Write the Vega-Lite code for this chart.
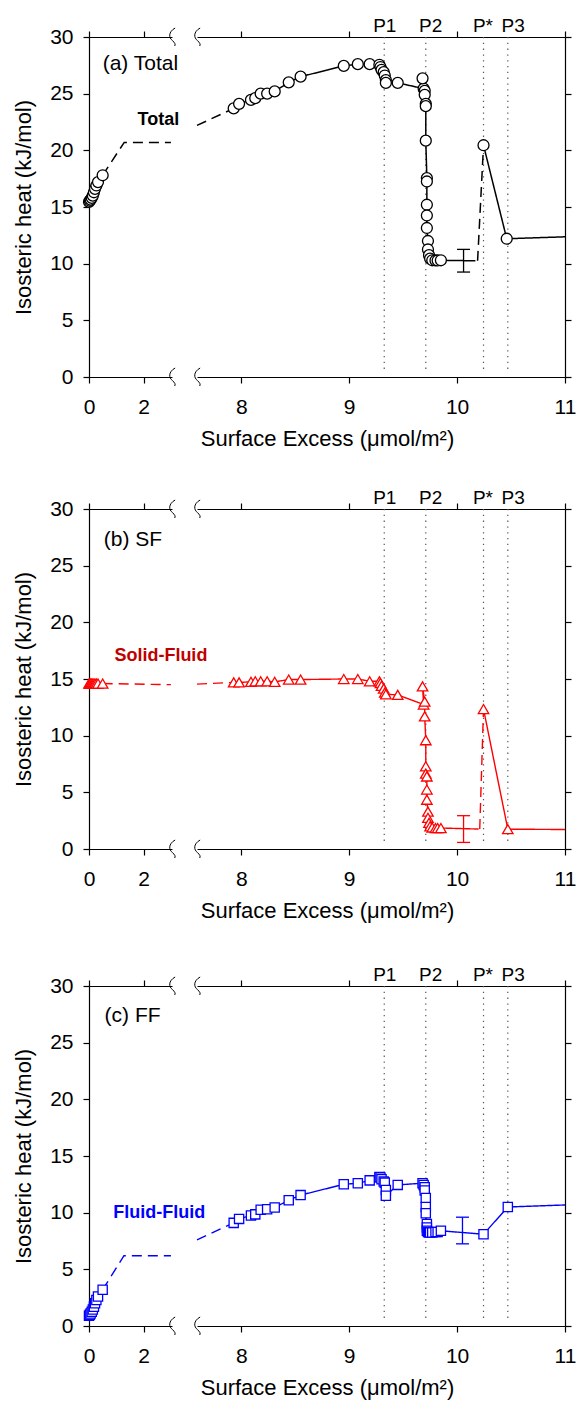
{
"$schema":"https://vega.github.io/schema/vega-lite/v6.json",
"padding":{"left":12,"top":17,"right":2,"bottom":2},
"config":{"font":"Liberation Sans","view":{"stroke":null},
"axis":{"grid":false,"domainColor":"#000","tickColor":"#000","labelColor":"#000","titleColor":"#000","labelFont":"Liberation Sans","titleFont":"Liberation Sans","labelFontSize":21,"titleFontSize":22,"titleFontWeight":"normal","tickSize":6,"labelFlush":false,"labelOverlap":false,"domainWidth":1.2,"tickWidth":1.2}},
"datasets":{
"A":[
{"x":0,"y":15.45,"m":1,"g":"L1","d":"s","o":1},{"x":0.03,"y":15.55,"m":1,"g":"L1","d":"s","o":2},{"x":0.06,"y":15.65,"m":1,"g":"L1","d":"s","o":3},{"x":0.1,"y":15.8,"m":1,"g":"L1","d":"s","o":4},{"x":0.14,"y":16.0,"m":1,"g":"L1","d":"s","o":5},{"x":0.18,"y":16.3,"m":1,"g":"L1","d":"s","o":6},{"x":0.22,"y":16.6,"m":1,"g":"L1","d":"s","o":7},{"x":0.27,"y":16.9,"m":1,"g":"L1","d":"s","o":8},{"x":0.33,"y":17.2,"m":1,"g":"L1","d":"s","o":9},{"x":0.5,"y":17.8,"m":1,"g":"L1","d":"s","o":10},
{"x":0.5,"y":17.8,"m":0,"g":"L2","d":"d","o":1},{"x":1.29,"y":20.7,"m":0,"g":"L2","d":"d","o":2},{"x":3.0,"y":20.7,"m":0,"g":"L2","d":"d","o":3},
{"x":7.59,"y":22.2,"m":0,"g":"R1","d":"d","o":1},{"x":7.93,"y":23.7,"m":0,"g":"R1","d":"d","o":2},
{"x":7.93,"y":23.7,"m":1,"g":"R2","d":"s","o":1},{"x":7.98,"y":24.1,"m":1,"g":"R2","d":"s","o":2},{"x":8.09,"y":24.45,"m":1,"g":"R2","d":"s","o":3},{"x":8.13,"y":24.6,"m":1,"g":"R2","d":"s","o":4},{"x":8.18,"y":25.0,"m":1,"g":"R2","d":"s","o":5},{"x":8.24,"y":25.0,"m":1,"g":"R2","d":"s","o":6},{"x":8.31,"y":25.2,"m":1,"g":"R2","d":"s","o":7},{"x":8.44,"y":26.0,"m":1,"g":"R2","d":"s","o":8},{"x":8.55,"y":26.5,"m":1,"g":"R2","d":"s","o":9},{"x":8.95,"y":27.45,"m":1,"g":"R2","d":"s","o":10},{"x":9.08,"y":27.6,"m":1,"g":"R2","d":"s","o":11},{"x":9.19,"y":27.6,"m":1,"g":"R2","d":"s","o":12},{"x":9.28,"y":27.55,"m":1,"g":"R2","d":"s","o":13},{"x":9.29,"y":27.35,"m":1,"g":"R2","d":"s","o":14},{"x":9.3,"y":27.1,"m":1,"g":"R2","d":"s","o":15},{"x":9.32,"y":26.9,"m":1,"g":"R2","d":"s","o":16},{"x":9.33,"y":26.6,"m":1,"g":"R2","d":"s","o":17},{"x":9.34,"y":26.2,"m":1,"g":"R2","d":"s","o":18},{"x":9.34,"y":25.95,"m":1,"g":"R2","d":"s","o":19},{"x":9.45,"y":25.95,"m":1,"g":"R2","d":"s","o":20},{"x":9.69,"y":25.45,"m":1,"g":"R2","d":"s","o":21},{"x":9.68,"y":26.35,"m":1,"g":"R2","d":"s","o":22},{"x":9.7,"y":25.25,"m":1,"g":"R2","d":"s","o":23},{"x":9.7,"y":24.9,"m":1,"g":"R2","d":"s","o":24},{"x":9.71,"y":24.1,"m":1,"g":"R2","d":"s","o":25},{"x":9.71,"y":23.9,"m":1,"g":"R2","d":"s","o":26},{"x":9.71,"y":20.85,"m":1,"g":"R2","d":"s","o":27},{"x":9.72,"y":17.55,"m":1,"g":"R2","d":"s","o":28},{"x":9.72,"y":17.25,"m":1,"g":"R2","d":"s","o":29},{"x":9.72,"y":15.2,"m":1,"g":"R2","d":"s","o":30},{"x":9.72,"y":14.25,"m":1,"g":"R2","d":"s","o":31},{"x":9.72,"y":13.15,"m":1,"g":"R2","d":"s","o":32},{"x":9.73,"y":12.0,"m":1,"g":"R2","d":"s","o":33},{"x":9.73,"y":11.25,"m":1,"g":"R2","d":"s","o":34},{"x":9.74,"y":10.75,"m":1,"g":"R2","d":"s","o":35},{"x":9.75,"y":10.45,"m":1,"g":"R2","d":"s","o":36},{"x":9.77,"y":10.3,"m":1,"g":"R2","d":"s","o":37},{"x":9.8,"y":10.28,"m":1,"g":"R2","d":"s","o":38},{"x":9.82,"y":10.28,"m":1,"g":"R2","d":"s","o":39},{"x":9.85,"y":10.3,"m":1,"g":"R2","d":"s","o":40},{"x":10.17,"y":10.25,"m":0,"g":"R2","d":"s","o":41},
{"x":10.19,"y":10.25,"m":0,"g":"R3","d":"d","o":1},{"x":10.245,"y":20.45,"m":0,"g":"R3","d":"d","o":2},
{"x":10.245,"y":20.45,"m":1,"g":"R4","d":"s","o":1},{"x":10.46,"y":12.2,"m":1,"g":"R4","d":"s","o":2},{"x":11,"y":12.37,"m":0,"g":"R4","d":"s","o":3}
],
"B":[
{"x":0,"y":14.6,"m":1,"g":"L1","d":"s","o":1},{"x":0.03,"y":14.6,"m":1,"g":"L1","d":"s","o":2},{"x":0.06,"y":14.6,"m":1,"g":"L1","d":"s","o":3},{"x":0.1,"y":14.6,"m":1,"g":"L1","d":"s","o":4},{"x":0.14,"y":14.6,"m":1,"g":"L1","d":"s","o":5},{"x":0.18,"y":14.6,"m":1,"g":"L1","d":"s","o":6},{"x":0.22,"y":14.6,"m":1,"g":"L1","d":"s","o":7},{"x":0.27,"y":14.6,"m":1,"g":"L1","d":"s","o":8},{"x":0.33,"y":14.6,"m":1,"g":"L1","d":"s","o":9},{"x":0.5,"y":14.6,"m":1,"g":"L1","d":"s","o":10},
{"x":0.5,"y":14.6,"m":0,"g":"L2","d":"d","o":1},{"x":3.0,"y":14.5,"m":0,"g":"L2","d":"d","o":2},
{"x":7.59,"y":14.55,"m":0,"g":"R1","d":"d","o":1},{"x":7.93,"y":14.7,"m":0,"g":"R1","d":"d","o":2},
{"x":7.93,"y":14.7,"m":1,"g":"R2","d":"s","o":1},{"x":7.98,"y":14.7,"m":1,"g":"R2","d":"s","o":2},{"x":8.09,"y":14.75,"m":1,"g":"R2","d":"s","o":3},{"x":8.13,"y":14.8,"m":1,"g":"R2","d":"s","o":4},{"x":8.18,"y":14.8,"m":1,"g":"R2","d":"s","o":5},{"x":8.24,"y":14.8,"m":1,"g":"R2","d":"s","o":6},{"x":8.31,"y":14.75,"m":1,"g":"R2","d":"s","o":7},{"x":8.44,"y":14.95,"m":1,"g":"R2","d":"s","o":8},{"x":8.55,"y":14.95,"m":1,"g":"R2","d":"s","o":9},{"x":8.95,"y":15.0,"m":1,"g":"R2","d":"s","o":10},{"x":9.08,"y":15.0,"m":1,"g":"R2","d":"s","o":11},{"x":9.19,"y":14.8,"m":1,"g":"R2","d":"s","o":12},{"x":9.28,"y":14.8,"m":1,"g":"R2","d":"s","o":13},{"x":9.29,"y":14.65,"m":1,"g":"R2","d":"s","o":14},{"x":9.3,"y":14.4,"m":1,"g":"R2","d":"s","o":15},{"x":9.32,"y":14.15,"m":1,"g":"R2","d":"s","o":16},{"x":9.33,"y":13.8,"m":1,"g":"R2","d":"s","o":17},{"x":9.34,"y":13.65,"m":1,"g":"R2","d":"s","o":18},{"x":9.45,"y":13.6,"m":1,"g":"R2","d":"s","o":19},{"x":9.69,"y":12.75,"m":1,"g":"R2","d":"s","o":20},{"x":9.68,"y":14.35,"m":1,"g":"R2","d":"s","o":21},{"x":9.7,"y":13.0,"m":1,"g":"R2","d":"s","o":22},{"x":9.7,"y":11.7,"m":1,"g":"R2","d":"s","o":23},{"x":9.71,"y":9.6,"m":1,"g":"R2","d":"s","o":24},{"x":9.71,"y":7.3,"m":1,"g":"R2","d":"s","o":25},{"x":9.71,"y":6.65,"m":1,"g":"R2","d":"s","o":26},{"x":9.72,"y":6.4,"m":1,"g":"R2","d":"s","o":27},{"x":9.72,"y":5.25,"m":1,"g":"R2","d":"s","o":28},{"x":9.72,"y":4.35,"m":1,"g":"R2","d":"s","o":29},{"x":9.73,"y":3.3,"m":1,"g":"R2","d":"s","o":30},{"x":9.73,"y":2.75,"m":1,"g":"R2","d":"s","o":31},{"x":9.74,"y":2.3,"m":1,"g":"R2","d":"s","o":32},{"x":9.75,"y":2.0,"m":1,"g":"R2","d":"s","o":33},{"x":9.77,"y":1.9,"m":1,"g":"R2","d":"s","o":34},{"x":9.8,"y":1.85,"m":1,"g":"R2","d":"s","o":35},{"x":9.82,"y":1.85,"m":1,"g":"R2","d":"s","o":36},{"x":9.85,"y":1.85,"m":1,"g":"R2","d":"s","o":37},{"x":10.2,"y":1.76,"m":0,"g":"R2","d":"s","o":38},
{"x":10.21,"y":1.76,"m":0,"g":"R3","d":"d","o":1},{"x":10.245,"y":12.35,"m":0,"g":"R3","d":"d","o":2},
{"x":10.245,"y":12.35,"m":1,"g":"R4","d":"s","o":1},{"x":10.47,"y":1.75,"m":1,"g":"R4","d":"s","o":2},{"x":11,"y":1.72,"m":0,"g":"R4","d":"s","o":3}
],
"C":[
{"x":0,"y":0.9,"m":1,"g":"L1","d":"s","o":1},{"x":0.03,"y":1.0,"m":1,"g":"L1","d":"s","o":2},{"x":0.06,"y":1.1,"m":1,"g":"L1","d":"s","o":3},{"x":0.1,"y":1.25,"m":1,"g":"L1","d":"s","o":4},{"x":0.14,"y":1.45,"m":1,"g":"L1","d":"s","o":5},{"x":0.18,"y":1.7,"m":1,"g":"L1","d":"s","o":6},{"x":0.22,"y":2.0,"m":1,"g":"L1","d":"s","o":7},{"x":0.27,"y":2.3,"m":1,"g":"L1","d":"s","o":8},{"x":0.33,"y":2.6,"m":1,"g":"L1","d":"s","o":9},{"x":0.5,"y":3.2,"m":1,"g":"L1","d":"s","o":10},
{"x":0.5,"y":3.2,"m":0,"g":"L2","d":"d","o":1},{"x":1.28,"y":6.2,"m":0,"g":"L2","d":"d","o":2},{"x":3.0,"y":6.2,"m":0,"g":"L2","d":"d","o":3},
{"x":7.59,"y":7.6,"m":0,"g":"R1","d":"d","o":1},{"x":7.93,"y":9.1,"m":0,"g":"R1","d":"d","o":2},
{"x":7.93,"y":9.1,"m":1,"g":"R2","d":"s","o":1},{"x":7.98,"y":9.45,"m":1,"g":"R2","d":"s","o":2},{"x":8.09,"y":9.75,"m":1,"g":"R2","d":"s","o":3},{"x":8.13,"y":9.85,"m":1,"g":"R2","d":"s","o":4},{"x":8.18,"y":10.25,"m":1,"g":"R2","d":"s","o":5},{"x":8.24,"y":10.3,"m":1,"g":"R2","d":"s","o":6},{"x":8.31,"y":10.45,"m":1,"g":"R2","d":"s","o":7},{"x":8.44,"y":11.1,"m":1,"g":"R2","d":"s","o":8},{"x":8.55,"y":11.55,"m":1,"g":"R2","d":"s","o":9},{"x":8.95,"y":12.5,"m":1,"g":"R2","d":"s","o":10},{"x":9.08,"y":12.6,"m":1,"g":"R2","d":"s","o":11},{"x":9.19,"y":12.85,"m":1,"g":"R2","d":"s","o":12},{"x":9.28,"y":13.15,"m":1,"g":"R2","d":"s","o":13},{"x":9.29,"y":13.1,"m":1,"g":"R2","d":"s","o":14},{"x":9.3,"y":12.95,"m":1,"g":"R2","d":"s","o":15},{"x":9.32,"y":12.75,"m":1,"g":"R2","d":"s","o":16},{"x":9.33,"y":12.65,"m":1,"g":"R2","d":"s","o":17},{"x":9.34,"y":12.0,"m":1,"g":"R2","d":"s","o":18},{"x":9.34,"y":11.5,"m":1,"g":"R2","d":"s","o":19},{"x":9.45,"y":12.45,"m":1,"g":"R2","d":"s","o":20},{"x":9.68,"y":12.6,"m":1,"g":"R2","d":"s","o":21},{"x":9.69,"y":12.45,"m":1,"g":"R2","d":"s","o":22},{"x":9.7,"y":12.25,"m":1,"g":"R2","d":"s","o":23},{"x":9.7,"y":11.95,"m":1,"g":"R2","d":"s","o":24},{"x":9.71,"y":11.3,"m":1,"g":"R2","d":"s","o":25},{"x":9.71,"y":10.5,"m":1,"g":"R2","d":"s","o":26},{"x":9.71,"y":9.95,"m":1,"g":"R2","d":"s","o":27},{"x":9.72,"y":9.0,"m":1,"g":"R2","d":"s","o":28},{"x":9.72,"y":8.7,"m":1,"g":"R2","d":"s","o":29},{"x":9.72,"y":8.4,"m":1,"g":"R2","d":"s","o":30},{"x":9.73,"y":8.3,"m":1,"g":"R2","d":"s","o":31},{"x":9.74,"y":8.25,"m":1,"g":"R2","d":"s","o":32},{"x":9.75,"y":8.25,"m":1,"g":"R2","d":"s","o":33},{"x":9.77,"y":8.25,"m":1,"g":"R2","d":"s","o":34},{"x":9.8,"y":8.3,"m":1,"g":"R2","d":"s","o":35},{"x":9.82,"y":8.3,"m":1,"g":"R2","d":"s","o":36},{"x":9.85,"y":8.4,"m":1,"g":"R2","d":"s","o":37},{"x":10.245,"y":8.1,"m":1,"g":"R2","d":"s","o":38},{"x":10.47,"y":10.5,"m":1,"g":"R2","d":"s","o":39},{"x":11,"y":10.68,"m":0,"g":"R2","d":"s","o":40}
],
"E":[{"p":"A","x":10.06,"lo":9.26,"hi":11.26},{"p":"B","x":10.06,"lo":0.58,"hi":2.94},{"p":"C","x":10.05,"lo":7.25,"hi":9.6}],
"P":[{"x":9.325,"lx":9.33,"t":"P1"},{"x":9.71,"lx":9.755,"t":"P2"},{"x":10.245,"lx":10.24,"t":"P*"},{"x":10.47,"lx":10.52,"t":"P3"}]
},
"spacing":40,
"vconcat":[
{"hconcat":[
 {"width":83,"height":340,"resolve":{"axis":{"x":"independent","y":"independent"}},"layer":[
  {"data":{"values":[{"x":3.04,"y":0},{"x":3.04,"y":30}]},"mark":{"type":"point","shape":"M0.35,-1C-0.45,-0.55,-0.35,0.1,0.05,0.4C0.35,0.65,0.4,0.85,0.3,1","filled":false,"stroke":"black","strokeWidth":1,"size":324,"opacity":1},
   "encoding":{"x":{"field":"x","type":"quantitative","scale":{"domain":[0,3.04],"nice":false,"zero":false},"axis":{"orient":"top","values":[0,2],"labels":false,"title":null}},"y":{"field":"y","type":"quantitative","scale":{"domain":[0,30],"nice":false},"axis":null}}},
  {"data":{"name":"A"},"transform":[{"filter":"datum.x < 5"}],"mark":{"type":"line","color":"black","strokeWidth":1.5},
   "encoding":{"x":{"field":"x","type":"quantitative","axis":null},"y":{"field":"y","type":"quantitative","axis":null},"detail":{"field":"g"},"order":{"field":"o","type":"quantitative"},"strokeDash":{"field":"d","type":"nominal","scale":{"domain":["s","d"],"range":[[1,0],[10,6]]},"legend":null}}},
  {"data":{"name":"A"},"transform":[{"filter":"datum.m == 1 && datum.x < 5"}],"mark":{"type":"point","shape":"circle","filled":true,"fill":"white","stroke":"black","strokeWidth":1.3,"size":120,"opacity":1},
   "encoding":{"x":{"field":"x","type":"quantitative","axis":{"orient":"bottom","values":[0,2],"title":null,"labelPadding":13}},"y":{"field":"y","type":"quantitative","axis":{"orient":"left","values":[0,5,10,15,20,25,30],"title":"Isosteric heat (kJ/mol)","labelPadding":10,"titlePadding":14}}}},
  {"data":{"values":[{"t":"(a) Total","x":0.5,"y":27.6}]},"mark":{"type":"text","align":"left","baseline":"middle","fontSize":21},"encoding":{"x":{"field":"x","type":"quantitative","axis":null},"y":{"field":"y","type":"quantitative","axis":null},"text":{"field":"t"}}},
  {"data":{"values":[{"t":"Total","x":1.78,"y":22.7}]},"mark":{"type":"text","align":"left","baseline":"middle","fontSize":18,"fontWeight":"bold","color":"black"},"encoding":{"x":{"field":"x","type":"quantitative","axis":null},"y":{"field":"y","type":"quantitative","axis":null},"text":{"field":"t"}}}
 ]},
 {"width":368,"height":340,"resolve":{"axis":{"x":"independent","y":"independent"}},"layer":[
  {"data":{"values":[{"x":7.59,"y":0},{"x":7.59,"y":30}]},"mark":{"type":"point","shape":"M0.35,-1C-0.45,-0.55,-0.35,0.1,0.05,0.4C0.35,0.65,0.4,0.85,0.3,1","filled":false,"stroke":"black","strokeWidth":1,"size":324,"opacity":1},
   "encoding":{"x":{"field":"x","type":"quantitative","scale":{"domain":[7.59,11],"nice":false,"zero":false},"axis":{"orient":"top","values":[8,9,10,11],"labels":false,"title":null}},"y":{"field":"y","type":"quantitative","scale":{"domain":[0,30],"nice":false},"axis":null}}},
  {"data":{"name":"P"},"mark":{"type":"rule","color":"#555","strokeWidth":1.2,"strokeDash":[1.3,4.5]},"encoding":{"x":{"field":"x","type":"quantitative","axis":null},"y":{"datum":30,"type":"quantitative","axis":null},"y2":{"datum":0.7}}},
  {"data":{"name":"P"},"mark":{"type":"text","fontSize":19,"baseline":"alphabetic","dy":-5,"color":"black"},"encoding":{"x":{"field":"lx","type":"quantitative","axis":null},"y":{"datum":30,"type":"quantitative","axis":null},"text":{"field":"t"}}},
  {"data":{"name":"A"},"transform":[{"filter":"datum.x > 5"}],"mark":{"type":"line","color":"black","strokeWidth":1.5},
   "encoding":{"x":{"field":"x","type":"quantitative","axis":null},"y":{"field":"y","type":"quantitative","axis":null},"detail":{"field":"g"},"order":{"field":"o","type":"quantitative"},"strokeDash":{"field":"d","type":"nominal","scale":{"domain":["s","d"],"range":[[1,0],[10,6]]},"legend":null}}},
  {"data":{"name":"E"},"transform":[{"filter":"datum.p == 'A'"}],"mark":{"type":"rule","color":"black","strokeWidth":1.3},"encoding":{"x":{"field":"x","type":"quantitative","axis":null},"y":{"field":"lo","type":"quantitative","axis":null},"y2":{"field":"hi"}}},
  {"data":{"name":"E"},"transform":[{"filter":"datum.p == 'A'"}],"mark":{"type":"tick","orient":"horizontal","size":13,"thickness":1.3,"color":"black","opacity":1},"encoding":{"x":{"field":"x","type":"quantitative","axis":null},"y":{"field":"lo","type":"quantitative","axis":null}}},
  {"data":{"name":"E"},"transform":[{"filter":"datum.p == 'A'"}],"mark":{"type":"tick","orient":"horizontal","size":13,"thickness":1.3,"color":"black","opacity":1},"encoding":{"x":{"field":"x","type":"quantitative","axis":null},"y":{"field":"hi","type":"quantitative","axis":null}}},
  {"data":{"name":"A"},"transform":[{"filter":"datum.m == 1 && datum.x > 5"}],"mark":{"type":"point","shape":"circle","filled":true,"fill":"white","stroke":"black","strokeWidth":1.3,"size":120,"opacity":1},
   "encoding":{"x":{"field":"x","type":"quantitative","axis":{"orient":"bottom","values":[8,9,10,11],"title":"Surface Excess (μmol/m²)","titleX":130,"titleAlign":"center","titlePadding":11,"labelPadding":13}},"y":{"field":"y","type":"quantitative","axis":{"orient":"right","values":[0,5,10,15,20,25,30],"labels":false,"title":null}}}}
 ]}
],"spacing":25,"bounds":"flush"},
{"spacing":45,"vconcat":[
{"hconcat":[
 {"width":83,"height":340,"resolve":{"axis":{"x":"independent","y":"independent"}},"layer":[
  {"data":{"values":[{"x":3.04,"y":0},{"x":3.04,"y":30}]},"mark":{"type":"point","shape":"M0.35,-1C-0.45,-0.55,-0.35,0.1,0.05,0.4C0.35,0.65,0.4,0.85,0.3,1","filled":false,"stroke":"black","strokeWidth":1,"size":324,"opacity":1},
   "encoding":{"x":{"field":"x","type":"quantitative","scale":{"domain":[0,3.04],"nice":false,"zero":false},"axis":{"orient":"top","values":[0,2],"labels":false,"title":null}},"y":{"field":"y","type":"quantitative","scale":{"domain":[0,30],"nice":false},"axis":null}}},
  {"data":{"name":"B"},"transform":[{"filter":"datum.x < 5"}],"mark":{"type":"line","color":"#ff0000","strokeWidth":1.4},
   "encoding":{"x":{"field":"x","type":"quantitative","axis":null},"y":{"field":"y","type":"quantitative","axis":null},"detail":{"field":"g"},"order":{"field":"o","type":"quantitative"},"strokeDash":{"field":"d","type":"nominal","scale":{"domain":["s","d"],"range":[[1,0],[10,6]]},"legend":null}}},
  {"data":{"name":"B"},"transform":[{"filter":"datum.m == 1 && datum.x < 5"}],"mark":{"type":"point","shape":"triangle-up","filled":true,"fill":"white","stroke":"#ff0000","strokeWidth":1.3,"size":110,"opacity":1},
   "encoding":{"x":{"field":"x","type":"quantitative","axis":{"orient":"bottom","values":[0,2],"title":null,"labelPadding":13}},"y":{"field":"y","type":"quantitative","axis":{"orient":"left","values":[0,5,10,15,20,25,30],"title":"Isosteric heat (kJ/mol)","labelPadding":10,"titlePadding":14}}}},
  {"data":{"values":[{"t":"(b) SF","x":0.54,"y":27.3}]},"mark":{"type":"text","align":"left","baseline":"middle","fontSize":21},"encoding":{"x":{"field":"x","type":"quantitative","axis":null},"y":{"field":"y","type":"quantitative","axis":null},"text":{"field":"t"}}},
  {"data":{"values":[{"t":"Solid-Fluid","x":0.93,"y":17.0}]},"mark":{"type":"text","align":"left","baseline":"middle","fontSize":18,"fontWeight":"bold","color":"#c00000"},"encoding":{"x":{"field":"x","type":"quantitative","axis":null},"y":{"field":"y","type":"quantitative","axis":null},"text":{"field":"t"}}}
 ]},
 {"width":368,"height":340,"resolve":{"axis":{"x":"independent","y":"independent"}},"layer":[
  {"data":{"values":[{"x":7.59,"y":0},{"x":7.59,"y":30}]},"mark":{"type":"point","shape":"M0.35,-1C-0.45,-0.55,-0.35,0.1,0.05,0.4C0.35,0.65,0.4,0.85,0.3,1","filled":false,"stroke":"black","strokeWidth":1,"size":324,"opacity":1},
   "encoding":{"x":{"field":"x","type":"quantitative","scale":{"domain":[7.59,11],"nice":false,"zero":false},"axis":{"orient":"top","values":[8,9,10,11],"labels":false,"title":null}},"y":{"field":"y","type":"quantitative","scale":{"domain":[0,30],"nice":false},"axis":null}}},
  {"data":{"name":"P"},"mark":{"type":"rule","color":"#555","strokeWidth":1.2,"strokeDash":[1.3,4.5]},"encoding":{"x":{"field":"x","type":"quantitative","axis":null},"y":{"datum":30,"type":"quantitative","axis":null},"y2":{"datum":0.7}}},
  {"data":{"name":"P"},"mark":{"type":"text","fontSize":19,"baseline":"alphabetic","dy":-5,"color":"black"},"encoding":{"x":{"field":"lx","type":"quantitative","axis":null},"y":{"datum":30,"type":"quantitative","axis":null},"text":{"field":"t"}}},
  {"data":{"name":"B"},"transform":[{"filter":"datum.x > 5"}],"mark":{"type":"line","color":"#ff0000","strokeWidth":1.4},
   "encoding":{"x":{"field":"x","type":"quantitative","axis":null},"y":{"field":"y","type":"quantitative","axis":null},"detail":{"field":"g"},"order":{"field":"o","type":"quantitative"},"strokeDash":{"field":"d","type":"nominal","scale":{"domain":["s","d"],"range":[[1,0],[10,6]]},"legend":null}}},
  {"data":{"name":"E"},"transform":[{"filter":"datum.p == 'B'"}],"mark":{"type":"rule","color":"#ff0000","strokeWidth":1.3},"encoding":{"x":{"field":"x","type":"quantitative","axis":null},"y":{"field":"lo","type":"quantitative","axis":null},"y2":{"field":"hi"}}},
  {"data":{"name":"E"},"transform":[{"filter":"datum.p == 'B'"}],"mark":{"type":"tick","orient":"horizontal","size":13,"thickness":1.3,"color":"#ff0000","opacity":1},"encoding":{"x":{"field":"x","type":"quantitative","axis":null},"y":{"field":"lo","type":"quantitative","axis":null}}},
  {"data":{"name":"E"},"transform":[{"filter":"datum.p == 'B'"}],"mark":{"type":"tick","orient":"horizontal","size":13,"thickness":1.3,"color":"#ff0000","opacity":1},"encoding":{"x":{"field":"x","type":"quantitative","axis":null},"y":{"field":"hi","type":"quantitative","axis":null}}},
  {"data":{"name":"B"},"transform":[{"filter":"datum.m == 1 && datum.x > 5"}],"mark":{"type":"point","shape":"triangle-up","filled":true,"fill":"white","stroke":"#ff0000","strokeWidth":1.3,"size":110,"opacity":1},
   "encoding":{"x":{"field":"x","type":"quantitative","axis":{"orient":"bottom","values":[8,9,10,11],"title":"Surface Excess (μmol/m²)","titleX":130,"titleAlign":"center","titlePadding":11,"labelPadding":13}},"y":{"field":"y","type":"quantitative","axis":{"orient":"right","values":[0,5,10,15,20,25,30],"labels":false,"title":null}}}}
 ]}
],"spacing":25,"bounds":"flush"},
{"hconcat":[
 {"width":83,"height":340,"resolve":{"axis":{"x":"independent","y":"independent"}},"layer":[
  {"data":{"values":[{"x":3.04,"y":0},{"x":3.04,"y":30}]},"mark":{"type":"point","shape":"M0.35,-1C-0.45,-0.55,-0.35,0.1,0.05,0.4C0.35,0.65,0.4,0.85,0.3,1","filled":false,"stroke":"black","strokeWidth":1,"size":324,"opacity":1},
   "encoding":{"x":{"field":"x","type":"quantitative","scale":{"domain":[0,3.04],"nice":false,"zero":false},"axis":{"orient":"top","values":[0,2],"labels":false,"title":null}},"y":{"field":"y","type":"quantitative","scale":{"domain":[0,30],"nice":false},"axis":null}}},
  {"data":{"name":"C"},"transform":[{"filter":"datum.x < 5"}],"mark":{"type":"line","color":"#0000ff","strokeWidth":1.4},
   "encoding":{"x":{"field":"x","type":"quantitative","axis":null},"y":{"field":"y","type":"quantitative","axis":null},"detail":{"field":"g"},"order":{"field":"o","type":"quantitative"},"strokeDash":{"field":"d","type":"nominal","scale":{"domain":["s","d"],"range":[[1,0],[10,6]]},"legend":null}}},
  {"data":{"name":"C"},"transform":[{"filter":"datum.m == 1 && datum.x < 5"}],"mark":{"type":"point","shape":"square","filled":true,"fill":"white","stroke":"#0000ff","strokeWidth":1.3,"size":85,"opacity":1},
   "encoding":{"x":{"field":"x","type":"quantitative","axis":{"orient":"bottom","values":[0,2],"title":null,"labelPadding":13}},"y":{"field":"y","type":"quantitative","axis":{"orient":"left","values":[0,5,10,15,20,25,30],"title":"Isosteric heat (kJ/mol)","labelPadding":10,"titlePadding":14}}}},
  {"data":{"values":[{"t":"(c) FF","x":0.57,"y":27.35}]},"mark":{"type":"text","align":"left","baseline":"middle","fontSize":21},"encoding":{"x":{"field":"x","type":"quantitative","axis":null},"y":{"field":"y","type":"quantitative","axis":null},"text":{"field":"t"}}},
  {"data":{"values":[{"t":"Fluid-Fluid","x":0.89,"y":10.0}]},"mark":{"type":"text","align":"left","baseline":"middle","fontSize":18,"fontWeight":"bold","color":"#0000ff"},"encoding":{"x":{"field":"x","type":"quantitative","axis":null},"y":{"field":"y","type":"quantitative","axis":null},"text":{"field":"t"}}}
 ]},
 {"width":368,"height":340,"resolve":{"axis":{"x":"independent","y":"independent"}},"layer":[
  {"data":{"values":[{"x":7.59,"y":0},{"x":7.59,"y":30}]},"mark":{"type":"point","shape":"M0.35,-1C-0.45,-0.55,-0.35,0.1,0.05,0.4C0.35,0.65,0.4,0.85,0.3,1","filled":false,"stroke":"black","strokeWidth":1,"size":324,"opacity":1},
   "encoding":{"x":{"field":"x","type":"quantitative","scale":{"domain":[7.59,11],"nice":false,"zero":false},"axis":{"orient":"top","values":[8,9,10,11],"labels":false,"title":null}},"y":{"field":"y","type":"quantitative","scale":{"domain":[0,30],"nice":false},"axis":null}}},
  {"data":{"name":"P"},"mark":{"type":"rule","color":"#555","strokeWidth":1.2,"strokeDash":[1.3,4.5]},"encoding":{"x":{"field":"x","type":"quantitative","axis":null},"y":{"datum":30,"type":"quantitative","axis":null},"y2":{"datum":0.7}}},
  {"data":{"name":"P"},"mark":{"type":"text","fontSize":19,"baseline":"alphabetic","dy":-5,"color":"black"},"encoding":{"x":{"field":"lx","type":"quantitative","axis":null},"y":{"datum":30,"type":"quantitative","axis":null},"text":{"field":"t"}}},
  {"data":{"name":"C"},"transform":[{"filter":"datum.x > 5"}],"mark":{"type":"line","color":"#0000ff","strokeWidth":1.4},
   "encoding":{"x":{"field":"x","type":"quantitative","axis":null},"y":{"field":"y","type":"quantitative","axis":null},"detail":{"field":"g"},"order":{"field":"o","type":"quantitative"},"strokeDash":{"field":"d","type":"nominal","scale":{"domain":["s","d"],"range":[[1,0],[10,6]]},"legend":null}}},
  {"data":{"name":"E"},"transform":[{"filter":"datum.p == 'C'"}],"mark":{"type":"rule","color":"#0000ff","strokeWidth":1.3},"encoding":{"x":{"field":"x","type":"quantitative","axis":null},"y":{"field":"lo","type":"quantitative","axis":null},"y2":{"field":"hi"}}},
  {"data":{"name":"E"},"transform":[{"filter":"datum.p == 'C'"}],"mark":{"type":"tick","orient":"horizontal","size":13,"thickness":1.3,"color":"#0000ff","opacity":1},"encoding":{"x":{"field":"x","type":"quantitative","axis":null},"y":{"field":"lo","type":"quantitative","axis":null}}},
  {"data":{"name":"E"},"transform":[{"filter":"datum.p == 'C'"}],"mark":{"type":"tick","orient":"horizontal","size":13,"thickness":1.3,"color":"#0000ff","opacity":1},"encoding":{"x":{"field":"x","type":"quantitative","axis":null},"y":{"field":"hi","type":"quantitative","axis":null}}},
  {"data":{"name":"C"},"transform":[{"filter":"datum.m == 1 && datum.x > 5"}],"mark":{"type":"point","shape":"square","filled":true,"fill":"white","stroke":"#0000ff","strokeWidth":1.3,"size":85,"opacity":1},
   "encoding":{"x":{"field":"x","type":"quantitative","axis":{"orient":"bottom","values":[8,9,10,11],"title":"Surface Excess (μmol/m²)","titleX":130,"titleAlign":"center","titlePadding":11,"labelPadding":13}},"y":{"field":"y","type":"quantitative","axis":{"orient":"right","values":[0,5,10,15,20,25,30],"labels":false,"title":null}}}}
 ]}
],"spacing":25,"bounds":"flush"}
]}
]
}
